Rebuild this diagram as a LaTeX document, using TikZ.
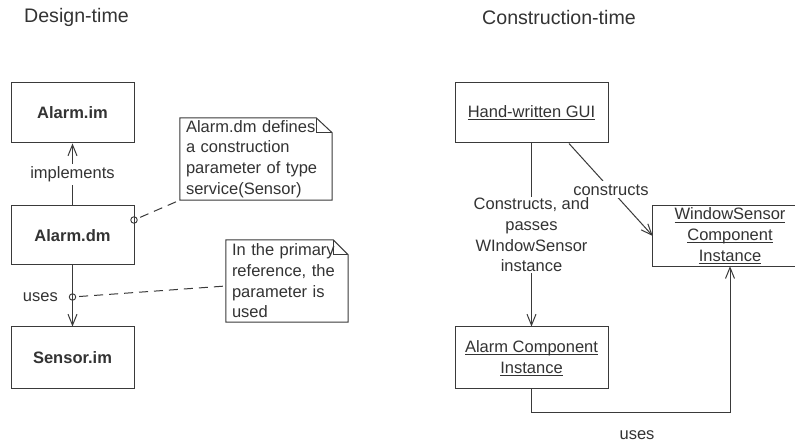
\documentclass[tikz,border=0pt]{standalone}
\usepackage{fontspec}
\setmainfont{Liberation Sans}
\usetikzlibrary{arrows.meta,calc}
\definecolor{ink}{HTML}{3A3A3A}
\definecolor{txt}{HTML}{333333}
\newcommand\uln[1]{{\setbox0\hbox{#1}\rlap{\rule[-2.6pt]{\wd0}{0.8pt}}\box0}}
\begin{document}
\begin{tikzpicture}[x=1pt,y=-1pt,
  every node/.style={text=txt, font=\fontsize{16.5}{20.7}\selectfont},
  title/.style={font=\fontsize{19.6}{23}\selectfont, inner sep=0pt},
  box/.style={draw=ink, line width=1pt, rectangle, minimum width=123pt, inner sep=0pt, align=center},
  openbox/.style={rectangle, minimum width=154pt, inner sep=0pt, align=center},
  note/.style={rectangle, inner xsep=6pt, inner ysep=0pt, align=left},
  noteline/.style={draw=ink, line width=1pt},
  arr/.style={draw=ink, line width=1pt, -{Straight Barb[length=11pt,width=9pt,line width=1pt]}},
  lbl/.style={fill=white, inner sep=3pt},
  dot/.style={circle, draw=ink, line width=0.9pt, minimum size=6.5pt, inner sep=0pt},
  dsh/.style={draw=ink, line width=1pt, dash pattern=on 9pt off 6pt}]
\useasboundingbox (0,0) rectangle (795,443);
\clip (0,0) rectangle (795,443);
\fill[white] (0,0) rectangle (795,443);

% titles
\node[title, anchor=west] (t1) at (24,17) {Design-time};
\node[title, anchor=west] (t2) at (482,17) {Construction-time};

% design-time boxes
\node[box, minimum height=60pt] (alarmim) at (72.5,113) {\bfseries Alarm.im};
\node[box, minimum height=59pt] (alarmdm) at (72.5,235.5) {\bfseries Alarm.dm};
\node[box, minimum height=62pt] (sensorim) at (72.5,358) {\bfseries Sensor.im};

\draw[arr] (alarmdm.north) -- node[lbl] (implbl) {implements} (alarmim.south);
\draw[arr] (alarmdm.south) -- (sensorim.north);
\node[dot] (c2) at (72.5,297) {};
\node[anchor=east, inner sep=0pt] (useslbl) at (58,297) {uses};
\node[dot] (c1) at (134,220) {};

% notes
\node[note, minimum width=152pt, minimum height=82pt, text width=140pt] (note1) at (256,159)
  {Alarm.dm defines\\a construction\\parameter of type\\service(Sensor)};
\draw[noteline] (note1.north west) -- ([xshift=-16pt]note1.north east) -- ([yshift=-15pt]note1.north east)
  -- (note1.south east) -- (note1.south west) -- cycle;
\draw[noteline] ([xshift=-16pt]note1.north east) -- ([xshift=-16pt,yshift=-15pt]note1.north east) -- ([yshift=-15pt]note1.north east);

\node[note, minimum width=122pt, minimum height=82pt, text width=110pt] (note2) at (287,281)
  {In the primary\\reference, the\\parameter is\\used};
\draw[noteline] (note2.north west) -- ([xshift=-15pt]note2.north east) -- ([yshift=-15pt]note2.north east)
  -- (note2.south east) -- (note2.south west) -- cycle;
\draw[noteline] ([xshift=-15pt]note2.north east) -- ([xshift=-15pt,yshift=-15pt]note2.north east) -- ([yshift=-15pt]note2.north east);

\draw[dsh, shorten <=3pt, shorten >=4pt] (c1) -- (note1.south west);
\draw[dsh, shorten <=3pt] (c2) -- ([yshift=-5pt]note2.west);

% construction-time boxes
\node[box, minimum width=153pt, minimum height=60pt] (gui) at (531.5,113) {\uln{Hand-written GUI}};
\node[openbox, minimum height=60pt] (ws) at (730,236)
  {\uln{WindowSensor}\\\uln{Component}\\\uln{Instance}};
\draw[noteline] ([xshift=40pt]ws.north east) -- (ws.north west) -- (ws.south west) -- ([xshift=40pt]ws.south east);
\node[box, minimum width=153pt, minimum height=62pt] (ac) at (531.5,358)
  {\uln{Alarm Component}\\\uln{Instance}};

\draw[arr] ([xshift=37.5pt]gui.south) -- node[lbl] (conlbl) {constructs} (ws.west);
\draw[arr] (gui.south) -- node[lbl, align=center, inner sep=1pt] (cplbl)
  {Constructs, and\\passes\\WIndowSensor\\instance} (ac.north);
\draw[arr] (ac.south) |- ([yshift=-146pt]ws.south) -- (ws.south);
\node (useslbl2) at (637,435) {uses};
\end{tikzpicture}
\end{document}
